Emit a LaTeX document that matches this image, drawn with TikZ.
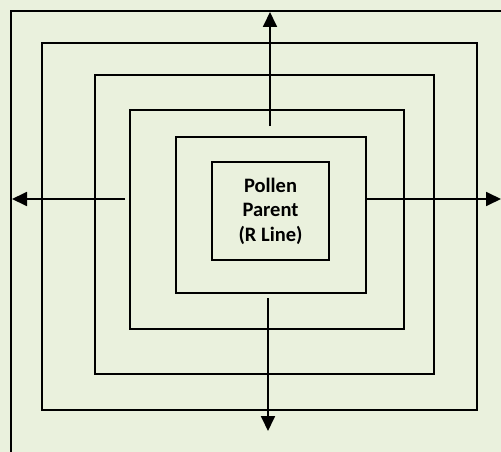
\documentclass[tikz,border=0pt]{standalone}
\usepackage{fontspec}
\setmainfont{Carlito}
\usetikzlibrary{arrows.meta}
\definecolor{paper}{HTML}{EAF1DD}
\tikzset{
  ring/.style={draw=black, line width=1.8pt, rectangle, inner sep=0pt, outer sep=0pt},
  spread/.style={line width=1.8pt, -{Triangle[length=15pt,width=14pt]}},
}
\begin{document}
\begin{tikzpicture}[x=1pt,y=-1pt]
  \useasboundingbox (0,0) rectangle (501,452);
  \clip (0,0) rectangle (501,452);
  \fill[paper] (0,0) rectangle (501,452);
  % outer frame
  \node[ring, minimum width=492pt, minimum height=444pt] (frame) at (257,233) {};
  % nested rings around the centre
  \node[ring, minimum width=435pt, minimum height=367pt] (r1) at (259.5,226.5) {};
  \node[ring, minimum width=339pt, minimum height=299pt] (r2) at (264.5,224.5) {};
  \node[ring, minimum width=274pt, minimum height=219pt] (r3) at (267,219.5) {};
  \node[ring, minimum width=190pt, minimum height=156pt] (r4) at (271,215) {};
  \node[ring, minimum width=117pt, minimum height=98pt, align=center,
        font=\fontsize{20.5pt}{24.5pt}\selectfont\bfseries] (core) at (270.5,211)
        {Pollen\\Parent\\(R Line)};
  % arrow starts and ends
  \coordinate (lstart) at (125,199);
  \coordinate (lend) at (12,199);
  \coordinate (rstart) at (r4.east |- 0,199);
  \coordinate (rend) at (501,199);
  \coordinate (ustart) at (270,126);
  \coordinate (uend) at (270,12);
  \coordinate (dstart) at (268,298);
  \coordinate (dend) at (268,431);
  \draw[spread] (lstart) -- (lend);
  \draw[spread] (rstart) -- (rend);
  \draw[spread] (ustart) -- (uend);
  \draw[spread] (dstart) -- (dend);
\end{tikzpicture}
\end{document}
